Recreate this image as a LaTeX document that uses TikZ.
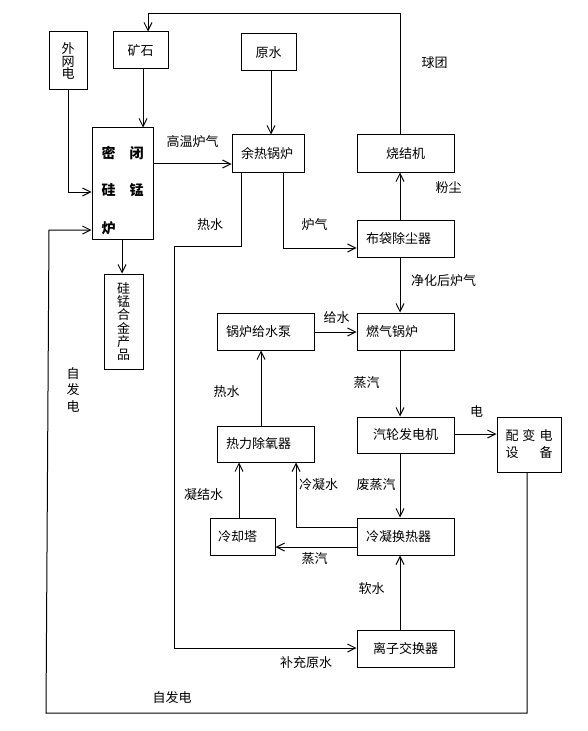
\documentclass[tikz,border=0pt]{standalone}
\usepackage{fontspec}
\setmainfont{Noto Sans CJK SC}
\usetikzlibrary{arrows.meta}
\begin{document}
\begin{tikzpicture}[x=0.75pt,y=-0.75pt,line width=0.75pt,
  arr/.style={-{Straight Barb[length=6pt,width=6pt]}},
  box/.style 2 args={draw,line width=0.75pt,minimum width=#1*0.75pt,minimum height=#2*0.75pt,inner sep=0pt,align=center,font=\fontsize{9.75pt}{12pt}\selectfont},
  lbox/.style n args={3}{box={#1}{#2},text width=#3,align=left},
  lbl/.style={inner sep=0pt,font=\fontsize{9.75pt}{12pt}\selectfont}]
\useasboundingbox (0,0) rectangle (588,731);
% boxes
\node[box={38}{58},font=\fontsize{9.75pt}{9.4pt}\selectfont] (waiwang) at (68,61) {外\\网\\电};
\node[box={55}{37}] (kuangshi) at (140.5,50.5) {矿石};
\node[box={55}{37}] (yuanshui) at (268.5,52.5) {原水};
\node[box={61}{111}] (luzi) at (122.5,183.5) {};
\node[lbl,font=\bfseries\fontsize{10.5pt}{28pt}\selectfont,align=left] (luzitxt) at (122.5,190.5) {密　闭\\硅　锰\\炉};
\node[box={39}{95},font=\fontsize{9.75pt}{9.9pt}\selectfont] (guimeng) at (123.5,321.5) {硅\\锰\\合\\金\\产\\品};
\node[lbox={72}{37}{40.5pt}] (yure) at (268,153.5) {余热锅炉};
\node[box={97}{37}] (shaojie) at (405.5,153.5) {烧结机};
\node[lbox={97}{37}{59.25pt}] (budai) at (405.5,238.5) {布袋除尘器};
\node[lbox={97}{37}{59.25pt}] (ranqi) at (405.5,331.5) {燃气锅炉};
\node[lbox={97}{37}{59.25pt}] (guoluji) at (265.5,331.5) {锅炉给水泵};
\node[box={97}{36}] (qilun) at (405.5,435) {汽轮发电机};
\node[box={64}{55},font=\fontsize{9.75pt}{12.75pt}\selectfont] (peibian) at (529,444.5) {配\hspace{3pt}变\hspace{3pt}电\\设\hspace{15.75pt}备};
\node[lbox={97}{36}{59.25pt}] (reli) at (265.5,444) {热力除氧器};
\node[lbox={97}{37}{59.25pt}] (lengning) at (405.5,536.5) {冷凝换热器};
\node[lbox={65}{37}{36.75pt}] (lengque) at (242.5,536.5) {冷却塔};
\node[box={97}{37}] (lizi) at (405.5,648.5) {离子交换器};
% helper coordinates
\coordinate (cR) at (400,0);
\coordinate (t1) at (400,14);
\coordinate (t2) at (148,14);
\coordinate (w1) at (68,192);
\coordinate (k1) at (143,0);
\coordinate (y1) at (271,0);
\coordinate (g1) at (0,164);
\coordinate (p1) at (122,0);
\coordinate (h1) at (241,246);
\coordinate (h2) at (174,246);
\coordinate (h3) at (174,648);
\coordinate (q1) at (283,248);
\coordinate (f1) at (0,332);
\coordinate (e1) at (0,434);
\coordinate (n1) at (296,527);
\coordinate (s1) at (0,547);
\coordinate (j1) at (239,0);
\coordinate (r1) at (261,0);
\coordinate (z1) at (527,713);
\coordinate (z2) at (46,713);
\coordinate (z3) at (49,230);
% connectors
\draw[arr] (shaojie.north -| t1) -- (t1) -- (t2) -- (kuangshi.north -| t2);
\draw[arr] (waiwang.south -| w1) -- (w1) -- (luzi.west |- w1);
\draw[arr] (kuangshi.south -| k1) -- (luzi.north -| k1);
\draw[arr] (yuanshui.south -| y1) -- (yure.north -| y1);
\draw[arr] (luzi.east |- g1) -- (yure.west |- g1);
\draw[arr] (luzi.south -| p1) -- (guimeng.north -| p1);
\draw[arr] (yure.south -| h1) -- (h1) -- (h2) -- (h3) -- (lizi.west |- h3);
\draw[arr] (yure.south -| q1) -- (q1) -- (budai.west |- q1);
\draw[arr] (budai.north -| cR) -- (shaojie.south -| cR);
\draw[arr] (budai.south -| cR) -- (ranqi.north -| cR);
\draw[arr] (guoluji.east |- f1) -- (ranqi.west |- f1);
\draw[arr] (ranqi.south -| cR) -- (qilun.north -| cR);
\draw[arr] (qilun.east |- e1) -- (peibian.west |- e1);
\draw[arr] (qilun.south -| cR) -- (lengning.north -| cR);
\draw[arr] (lengning.west |- n1) -- (n1) -- (reli.south -| n1);
\draw[arr] (lengning.west |- s1) -- (lengque.east |- s1);
\draw[arr] (lengque.north -| j1) -- (reli.south -| j1);
\draw[arr] (reli.north -| r1) -- (guoluji.south -| r1);
\draw[arr] (lizi.north -| cR) -- (lengning.south -| cR);
\draw[arr] (peibian.south -| z1) -- (z1) -- (z2) -- (z3) -- (luzi.west |- z3);
% labels
\node[lbl] (la) at (434.5,63) {球团};
\node[lbl] (lb) at (192.5,142) {高温炉气};
\node[lbl] (lc) at (210,225) {热水};
\node[lbl] (ld) at (314.5,225) {炉气};
\node[lbl] (le) at (448.5,188) {粉尘};
\node[lbl] (lf) at (443.5,281) {净化后炉气};
\node[lbl] (lg) at (336.5,318) {给水};
\node[lbl] (lh) at (366.5,383) {蒸汽};
\node[lbl] (li) at (476.5,411) {电};
\node[lbl] (lj) at (376,485) {废蒸汽};
\node[lbl] (lk) at (318.5,485) {冷凝水};
\node[lbl] (ll) at (314.5,559) {蒸汽};
\node[lbl] (lm) at (371.5,589) {软水};
\node[lbl] (ln) at (306,663) {补充原水};
\node[lbl] (lo) at (226.5,392) {热水};
\node[lbl] (lp) at (203.5,495) {凝结水};
\node[lbl] (lq) at (172,698) {自发电};
\node[lbl,font=\fontsize{9.75pt}{12.4pt}\selectfont,align=center] (lr) at (73,389.5) {自\\发\\电};
\end{tikzpicture}
\end{document}
